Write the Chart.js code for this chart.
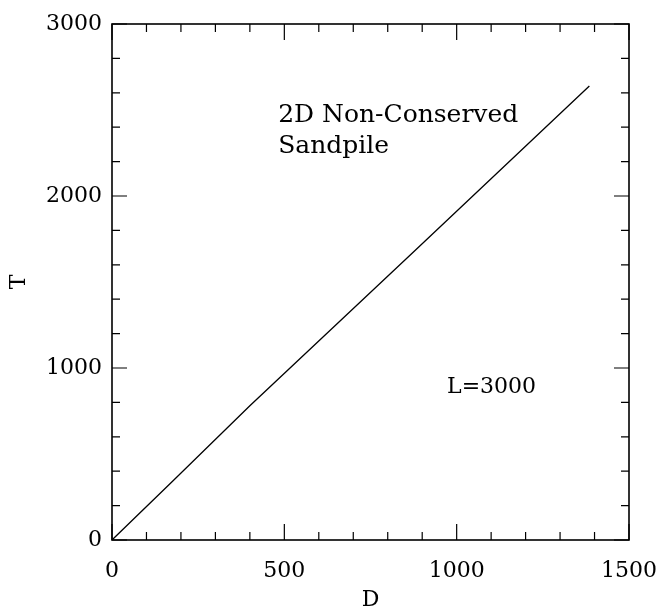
<!DOCTYPE html>
<html>
<head>
<meta charset="utf-8">
<script src="https://cdn.jsdelivr.net/npm/chart.js@4.4.1/dist/chart.umd.min.js"></script>
<style>
  html, body { margin: 0; padding: 0; background: #fff; }
  #wrap { width: 659px; height: 611px; }
</style>
</head>
<body>
<div id="wrap"><canvas id="chart" width="659" height="611"></canvas></div>
<script>
// Values
const dValues = [0, 175, 400, 880, 1385];
const tValues = [0, 340, 780, 1685, 2640];

const xTickLabels = [0, 500, 1000, 1500];
const yTickLabels = [0, 1000, 2000, 3000];
const xMinorStep = 100;
const yMinorStep = 200;

const notes = [
  { text: "2D Non-Conserved", d: 482, t: 2430, size: 25 },
  { text: "Sandpile", d: 482, t: 2250, size: 25 },
  { text: "L=3000", d: 972, t: 855, size: 22 },
];

Chart.defaults.font.family = '"DejaVu Serif", serif';
Chart.defaults.color = "#000";

// Frame, inward ticks on all four sides, and the text notes
const frameTicks = {
  id: "frameTicks",
  afterDatasetsDraw(chart) {
    const { ctx, chartArea: a, scales: { x, y } } = chart;
    ctx.save();
    ctx.strokeStyle = "#000";
    ctx.lineWidth = 1.6;
    ctx.strokeRect(a.left, a.top, a.right - a.left, a.bottom - a.top);

    ctx.lineWidth = 1.2;
    ctx.beginPath();
    for (let v = x.min; v <= x.max; v += xMinorStep) {
      const px = x.getPixelForValue(v);
      const len = xTickLabels.includes(v) ? 16 : 8;
      ctx.moveTo(px, a.bottom);
      ctx.lineTo(px, a.bottom - len);
      ctx.moveTo(px, a.top);
      ctx.lineTo(px, a.top + len);
    }
    for (let v = y.min; v <= y.max; v += yMinorStep) {
      const py = y.getPixelForValue(v);
      const len = yTickLabels.includes(v) ? 15 : 8;
      ctx.moveTo(a.left, py);
      ctx.lineTo(a.left + len, py);
      ctx.moveTo(a.right, py);
      ctx.lineTo(a.right - len, py);
    }
    ctx.stroke();

    ctx.fillStyle = "#000";
    ctx.textAlign = "left";
    ctx.textBaseline = "alphabetic";
    notes.forEach((n) => {
      ctx.font = `${n.size}px "DejaVu Serif"`;
      ctx.fillText(n.text, x.getPixelForValue(n.d), y.getPixelForValue(n.t));
    });
    ctx.restore();
  },
};

new Chart(document.getElementById("chart"), {
  type: "scatter",
  data: {
    datasets: [
      {
        data: dValues.map((d, i) => ({ x: d, y: tValues[i] })),
        showLine: true,
        borderColor: "#000",
        borderWidth: 1.3,
        pointRadius: 0,
        tension: 0,
      },
    ],
  },
  options: {
    responsive: false,
    animation: false,
    layout: { padding: { top: 24, right: 30, left: 0, bottom: 0 } },
    plugins: { legend: { display: false }, tooltip: { enabled: false } },
    scales: {
      x: {
        type: "linear",
        min: 0,
        max: 1500,
        afterBuildTicks: (s) => { s.ticks = xTickLabels.map((v) => ({ value: v })); },
        afterFit: (s) => { s.height = 71; s.paddingLeft = 0; s.paddingRight = 0; },
        grid: { display: false, drawTicks: false },
        border: { display: false },
        ticks: { padding: 18, font: { size: 22 }, callback: (v) => String(v), maxRotation: 0 },
        title: { display: true, text: "D", font: { size: 22, lineHeight: 1.0 }, padding: { top: 0, bottom: 0 } },
      },
      y: {
        type: "linear",
        min: 0,
        max: 3000,
        afterBuildTicks: (s) => { s.ticks = yTickLabels.map((v) => ({ value: v })); },
        afterFit: (s) => { s.width = 112; s.paddingTop = 0; s.paddingBottom = 0; },
        grid: { display: false, drawTicks: false },
        border: { display: false },
        ticks: { padding: 10, font: { size: 22 }, callback: (v) => String(v) },
        title: { display: true, text: "T", font: { size: 22 }, padding: { top: 6, bottom: 0 } },
      },
    },
  },
  plugins: [frameTicks],
});
</script>
</body>
</html>
